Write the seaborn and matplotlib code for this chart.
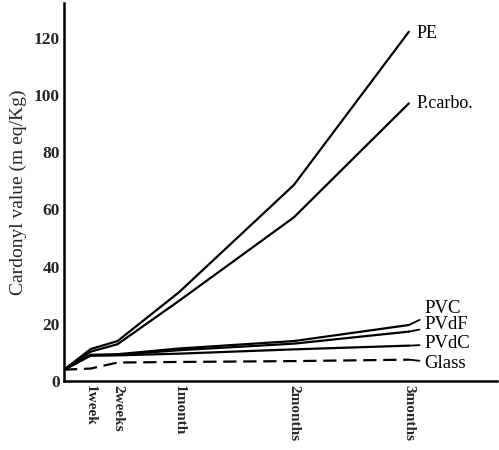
import matplotlib
matplotlib.use("Agg")
import matplotlib.pyplot as plt
import seaborn as sns
import pandas as pd

# Storage time in days and carbonyl value (m eq/Kg) for each container material
days = [0, 7, 14, 30, 60, 90]
tick_days = [7, 14, 30, 60, 90]
tick_labels = ["1week", "2weeks", "1month", "2months", "3months"]

pe = [4, 11.2, 14, 31, 68.5, 122]
p_carbo = [4, 10.3, 12.9, 28, 57.2, 97]
pvc = [4, 9.2, 9.4, 11.4, 14.0, 19.6]
pvdf = [4, 9.0, 9.2, 10.8, 13.1, 17.3]
pvdc = [4, 8.9, 9.0, 9.6, 11.1, 12.4]
glass = [4, 4.4, 6.5, 6.7, 7.0, 7.5]

names = ["PE", "P.carbo.", "PVC", "PVdF", "PVdC", "Glass"]
series = [pe, p_carbo, pvc, pvdf, pvdc, glass]
# label anchor positions (day, value) next to the line ends
label_pos = [(92.0, 121.5), (92.0, 97.0), (94.0, 25.2), (94.0, 19.8), (94.0, 13.0), (94.0, 6.2)]

sns.set_theme(style="white")
plt.rcParams["font.family"] = ["Liberation Serif", "DejaVu Serif"]

fig = plt.figure(figsize=(4.99, 4.5), dpi=100)
ax = fig.add_axes([0.128, 0.153, 0.868, 0.84])

for name, vals in zip(names, series):
    df = pd.DataFrame({"day": days, "value": vals})
    ls = (0, (6, 3)) if name == "Glass" else "-"
    sns.lineplot(data=df, x="day", y="value", ax=ax, color="black",
                 linewidth=1.6, linestyle=ls)

for name, vals, (lx, ly) in zip(names, series, label_pos):
    if name in ("PE", "P.carbo."):
        ax.text(lx, ly, name, fontsize=13, va="center", ha="left", color="black")
    else:
        ax.annotate(name, xy=(days[-1], vals[-1]), xytext=(lx, ly),
                    fontsize=13.5, va="center", ha="left", color="black",
                    arrowprops=dict(arrowstyle="-", color="black", lw=1.3,
                                    shrinkA=1, shrinkB=0,
                                    connectionstyle="arc3,rad=0.0"))

ax.set_xlim(0, 113)
ax.set_ylim(0, 132)
ax.set_yticks(range(0, 121, 20))
ax.set_xticks(tick_days)
ax.set_xticklabels(tick_labels, rotation=-90, fontsize=11, fontweight="bold",
                   va="top", ha="center")
ax.tick_params(axis="y", labelsize=12.5, direction="in", length=4, width=1.2, pad=3)
ax.tick_params(axis="x", direction="in", length=4, width=1.2, pad=3)
for t in ax.get_yticklabels():
    t.set_fontweight("bold")

ax.set_xlabel("")
ax.set_ylabel("Cardonyl value (m eq/Kg)", fontsize=14, labelpad=5)

for side in ("top", "right"):
    ax.spines[side].set_visible(False)
for side in ("left", "bottom"):
    ax.spines[side].set_color("black")
    ax.spines[side].set_linewidth(1.8)

fig.savefig("out.png", dpi=100, facecolor="white")
